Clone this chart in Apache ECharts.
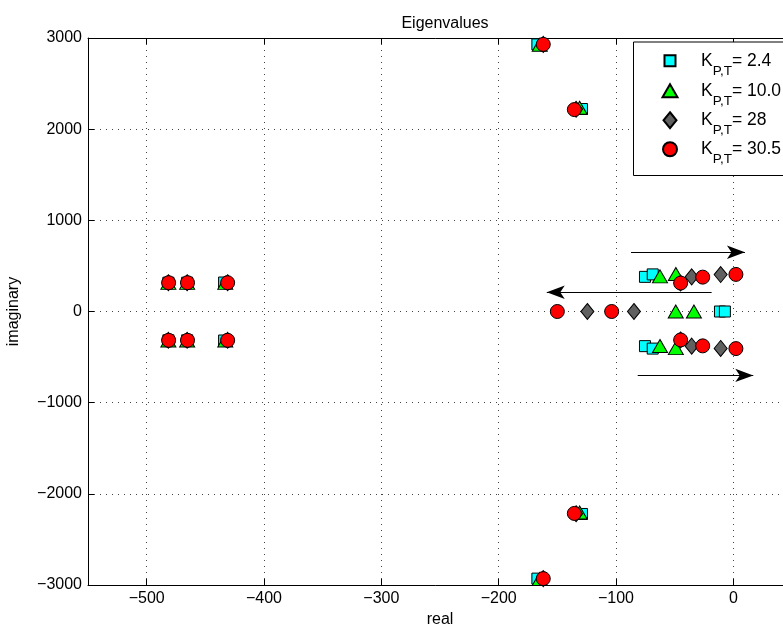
<!DOCTYPE html>
<html><head><meta charset="utf-8">
<script src="https://cdn.jsdelivr.net/npm/echarts@6/dist/echarts.min.js"></script>
<style>html,body{margin:0;padding:0;background:#fff}#chart{width:783px;height:631px}</style>
</head><body><div id="chart"></div>
<script>
// ---- data ----
const kValues = ['2.4', '10.0', '28', '30.5'];
const xRange = [-550, 50];
const yRange = [-3000, 3000];
const yStep = 1000;

const eigK24 = [
  [-481.5, 316], [-481.5, -316], [-465.5, 316], [-465.5, -316], [-434, 318], [-434, -318],
  [-167, 2930], [-167, -2930], [-129, 2221], [-129, -2221],
  [-75.3, 380], [-75.3, -380], [-68.7, 407], [-68.7, -407],
  [-11.4, 0], [-7.2, 0]
];
const eigK10 = [
  [-481.5, 314], [-481.5, -318], [-465.5, 314], [-465.5, -318], [-433, 314], [-433, -318],
  [-165, 2925], [-165, -2935], [-131, 2235], [-131, -2205],
  [-62.5, 385], [-62.5, -378], [-49, 412], [-49, -402],
  [-49.1, 0], [-33.6, 0]
];
const eigK28 = [
  [-481.5, 316], [-481.5, -316], [-465.5, 316], [-465.5, -316], [-431, 316], [-431, -316],
  [-162, 2930], [-162, -2930], [-134, 2218], [-134, -2218],
  [-45, 312], [-45, -312], [-35.5, 380], [-35.5, -380], [-10.8, 405], [-10.8, -405],
  [-124.4, 0], [-84.7, 0]
];
const eigK305 = [
  [-481.3, 316], [-481.3, -316], [-465.2, 316], [-465.2, -316], [-431, 316], [-431, -316],
  [-162, 2930], [-162, -2930], [-135.5, 2215], [-135.5, -2215],
  [-44.9, 312], [-44.9, -312], [-26.1, 377], [-26.1, -377], [2.2, 407], [2.2, -407],
  [-150, 0], [-103.7, 0]
];
const arrowStarts = [[-87.2, 650], [-18.5, 211], [-81.5, -701]];
const arrowEnds   = [[9.9, 650], [-159, 211], [17, -701]];

// ---- styles ----
const FONT = 'Liberation Sans, Arial, Helvetica, sans-serif';
const seriesData = [eigK24, eigK10, eigK28, eigK305];
const seriesNames = kValues.map(k => 'K=' + k);
const markStyles = [
  { symbol: 'rect', size: [11, 11], color: '#00FFFF' },
  { symbol: 'triangle', size: [15, 13], color: '#00FF00' },
  { symbol: 'diamond', size: [13, 16], color: '#606060' },
  { symbol: 'circle', size: [14, 14], color: '#FF0000' }
];
const legendRowCenters = [60.5, 90.5, 120, 149];
const legendIconCx = 669;
const legendTextX = 700;
const legendTextH = 34;

const fmtMinus = v => String(v).replace('-', '\u2212');

const series = seriesData.map((d, i) => ({
  name: seriesNames[i],
  type: 'scatter',
  data: d,
  symbol: markStyles[i].symbol,
  symbolSize: markStyles[i].size,
  itemStyle: { color: markStyles[i].color, borderColor: '#000', borderWidth: 1, opacity: 1 },
  emphasis: { disabled: true },
  clip: false,
  z: 3 + i
}));
series.push({
  type: 'lines',
  coordinateSystem: 'cartesian2d',
  data: arrowStarts.map((s, i) => ({ coords: [s, arrowEnds[i]] })),
  symbol: ['none', 'arrow'],
  symbolSize: [0, [10, 18]],
  lineStyle: { color: '#000', width: 1.2, opacity: 1 },
  z: 8,
  silent: true
});

const legends = seriesNames.map((n, i) => {
  const w = markStyles[i].size[0], h = markStyles[i].size[1];
  const spacer = legendTextX - (legendIconCx + w / 2 + 5);
  return {
    data: [{ name: n, icon: markStyles[i].symbol }],
    orient: 'vertical',
    left: legendIconCx - w / 2,
    top: legendRowCenters[i] - legendTextH / 2,
    padding: 0,
    itemWidth: w,
    itemHeight: h,
    itemGap: 0,
    selectedMode: false,
    z: 20,
    formatter: name => '{k0|K}{s|P,T}{k|= ' + kValues[seriesNames.indexOf(name)] + '}',
    textStyle: {
      fontFamily: FONT, color: '#000', fontSize: 17.5,
      rich: {
        k0: { fontFamily: FONT, fontSize: 17.5, color: '#000', padding: [0, 0, 0, spacer] },
        k: { fontFamily: FONT, fontSize: 17.5, color: '#000' },
        s: { fontFamily: FONT, fontSize: 13.5, lineHeight: 13.5, color: '#000', padding: [20.5, 0, 0, 0] }
      }
    }
  };
});

const axisCommon = {
  axisLine: { show: true, onZero: false, lineStyle: { color: '#000', width: 1 } },
  axisTick: { show: true, inside: true, length: 6, lineStyle: { color: '#000' } },
};

const option = {
  animation: false,
  backgroundColor: '#fff',
  title: {
    text: 'Eigenvalues', left: 440, top: 11, textAlign: 'center',
    textStyle: { fontFamily: FONT, fontSize: 16, fontWeight: 'normal', color: '#000' }
  },
  grid: { left: 88, right: -9, top: 38, bottom: 46, show: false, outerBoundsMode: 'none', containLabel: false },
  legend: legends,
  graphic: [{
    type: 'rect', left: 633, top: 41.5, z: 15,
    shape: { width: 200, height: 133.5 },
    style: { fill: '#fff', stroke: '#000', lineWidth: 1 }
  }],
  xAxis: [{
    type: 'value', min: xRange[0], max: xRange[1], position: 'bottom',
    ...axisCommon,
    name: 'real', nameLocation: 'middle', nameGap: 27,
    nameTextStyle: { fontFamily: FONT, fontSize: 16, color: '#000' },
    axisLabel: { fontFamily: FONT, fontSize: 16, color: '#000', margin: 6,
      formatter: v => (v % 100 === 0 ? fmtMinus(v) : '') },
    splitLine: { show: true, lineStyle: { color: '#444', width: 1, type: [1, 5] } }
  }, {
    type: 'value', min: xRange[0], max: xRange[1], position: 'top',
    ...axisCommon,
    axisLabel: { show: false }, splitLine: { show: false }
  }],
  yAxis: [{
    type: 'value', min: yRange[0], max: yRange[1], interval: yStep, position: 'left',
    ...axisCommon,
    name: 'imaginary', nameLocation: 'middle', nameGap: 66,
    nameTextStyle: { fontFamily: FONT, fontSize: 16, color: '#000' },
    axisLabel: { fontFamily: FONT, fontSize: 16, color: '#000', margin: 6, formatter: v => fmtMinus(v) },
    splitLine: { show: true, lineStyle: { color: '#444', width: 1, type: [1, 5] } }
  }, {
    type: 'value', min: yRange[0], max: yRange[1], interval: yStep, position: 'right',
    ...axisCommon,
    axisLabel: { show: false }, splitLine: { show: false }
  }],
  series: series
};

const chart = echarts.init(document.getElementById('chart'), null, { renderer: 'canvas' });
chart.setOption(option);
</script>
</body></html>
